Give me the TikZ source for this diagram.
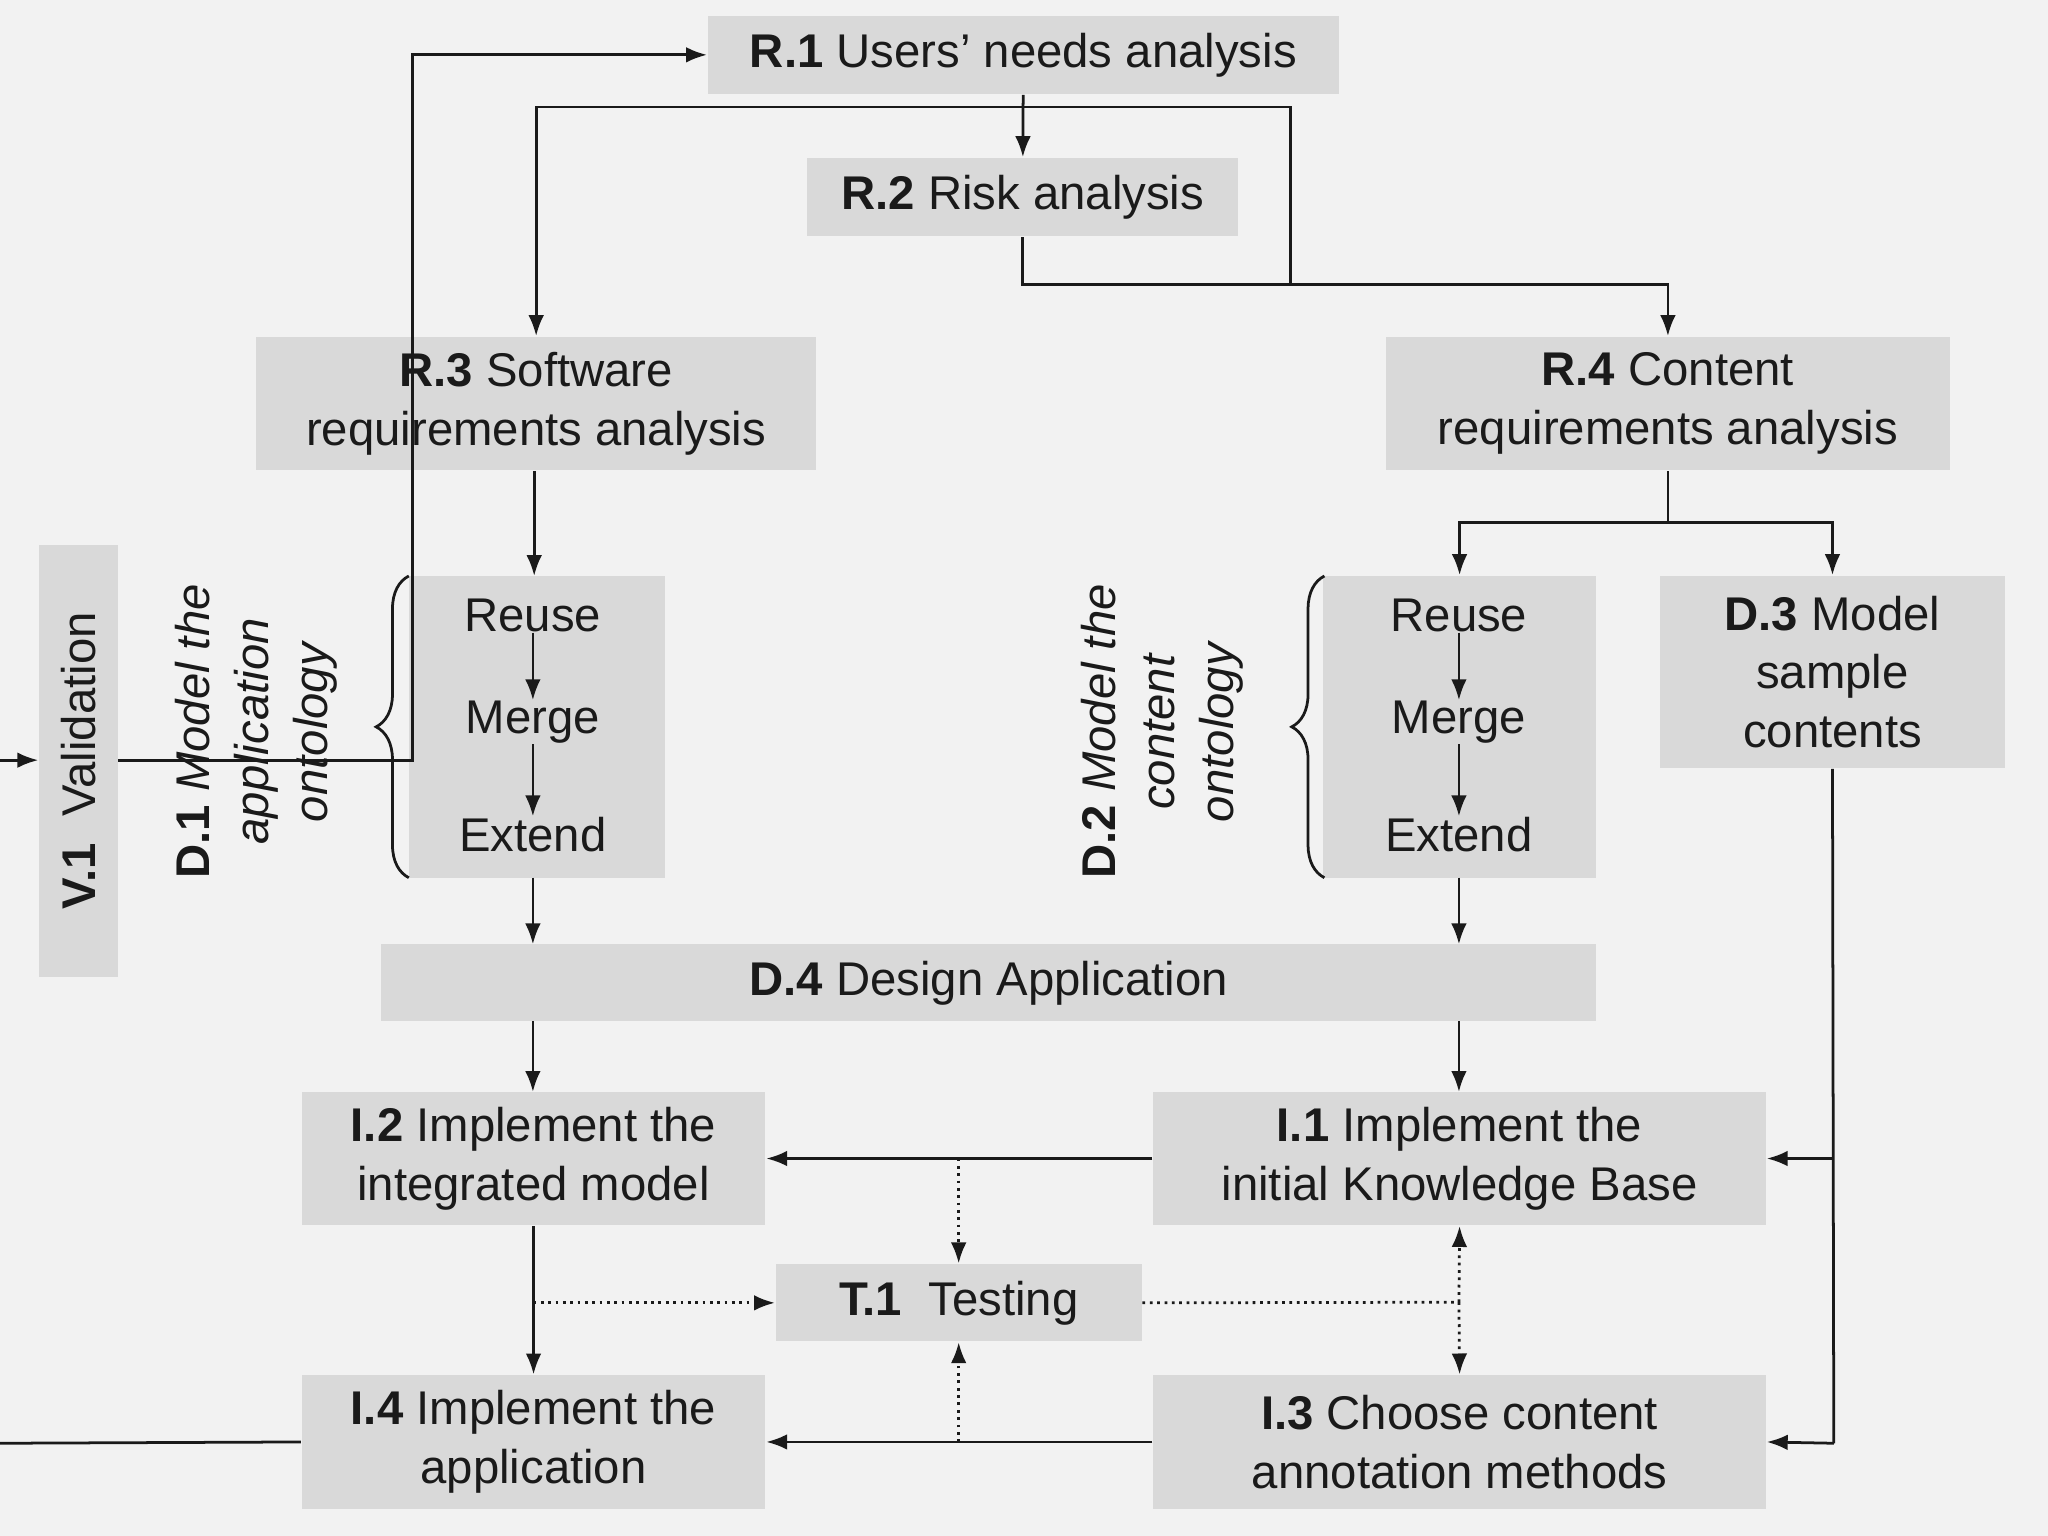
\documentclass[tikz,border=0pt]{standalone}
\usepackage{fontspec}
\setmainfont{Liberation Sans}
\usetikzlibrary{arrows.meta}
\usetikzlibrary{decorations.pathreplacing}
\definecolor{bggray}{HTML}{F2F2F2}
\definecolor{boxgray}{HTML}{D9D9D9}
\definecolor{inkgray}{HTML}{1A1A1A}
\tikzset{
	phase/.style={
		fill=boxgray, inner sep=0pt, align=center, text=inkgray,
		font=\fontsize{10.3}{12.8}\selectfont
	},
	bw/.style={minimum width=#1*0.01cm},
	bh/.style={minimum height=#1*0.01cm},
	sidelabel/.style={
		rotate=90, inner sep=0pt, align=center, text=inkgray,
		font=\fontsize{10.3}{12.8}\selectfont
	},
	step text/.style={
		inner sep=0pt, text=inkgray, font=\fontsize{10.3}{12.8}\selectfont
	},
	flow/.style={
		draw=inkgray, line width=0.6pt, -{Latex[length=1.6mm,width=1.2mm]}
	},
	plain flow/.style={
		draw=inkgray, line width=0.6pt
	},
	test flow/.style={
		flow, densely dotted
	}
}
\begin{document}
\begin{tikzpicture}[x=0.01cm, y=-0.01cm]
    \fill[bggray] (0,0) rectangle (1568,1176);
    \useasboundingbox (0,0) rectangle (1568,1176);

    % requirements
    \node[phase, bw=483, bh=60] (R1) at (783.5,42) {\textbf{R.1} Users’ needs analysis};
    \node[phase, bw=330, bh=60] (R2) at (783,151) {\textbf{R.2} Risk analysis};
    \node[phase, bw=429, bh=102] (R3) at (410.5,309) {\textbf{R.3} Software\\requirements analysis};
    \node[phase, bw=432, bh=102] (R4) at (1277,309) {\textbf{R.4} Content\\requirements analysis};

    % design
    \node[phase, bw=196, bh=231] (D1box) at (411,556.5) {};
    \node[phase, bw=209, bh=231] (D2box) at (1117.5,556.5) {};
    \node[phase, bw=264, bh=147] (D3) at (1403,514.5) {\textbf{D.3} Model\\sample\\contents};
    \node[phase, bw=930, bh=59] (D4) at (757,752.5) {\textbf{D.4} Design Application};
    \node[phase, bw=60, bh=331] (V1) at (60,582.5) {};
    \node[sidelabel] (V1text) at (V1.center) {\textbf{V.1} \ Validation};

    \foreach \blk/\x in {D1/408, D2/1117}{
        \node[step text] (\blk-reuse) at (\x,471) {Reuse};
        \node[step text] (\blk-merge) at (\x,553) {Merge};
        \node[step text] (\blk-extend) at (\x,639) {Extend};
        \draw[flow] (\blk-reuse) -- (\blk-merge);
        \draw[flow] (\blk-merge) -- (\blk-extend);
    }
    \node[sidelabel] (D1label) at (196,560) {\textbf{D.1} \textit{Model the}\\\textit{application}\\\textit{ontology}};
    \node[sidelabel] (D2label) at (890,560) {\textbf{D.2} \textit{Model the}\\\textit{content}\\\textit{ontology}};
    \draw[plain flow, decorate, decoration={brace, amplitude=0.25cm}] (313,672) -- (313,441);
    \draw[plain flow, decorate, decoration={brace, amplitude=0.25cm}] (1014,672) -- (1014,441);

    % implementation and testing
    \node[phase, bw=355, bh=102] (I2) at (408.5,887) {\textbf{I.2} Implement the\\integrated model};
    \node[phase, bw=469, bh=102] (I1) at (1117.5,887) {\textbf{I.1} Implement the\\initial Knowledge Base};
    \node[phase, bw=280, bh=59] (T1) at (734,997.5) {\textbf{T.1} \ Testing};
    \node[phase, bw=355, bh=102] (I4) at (408.5,1104) {\textbf{I.4} Implement the\\application};
    \node[phase, bw=469, bh=102] (I3) at (1117.5,1104) {\textbf{I.3} Choose content\\annotation methods};

    \coordinate (loopin) at (0,582);
    \coordinate (loopout) at (0,1105);
    \coordinate (backtop) at (988,82);
    \coordinate (backbot) at (988,218);
    \coordinate (r4fork) at (1277,400);
    \coordinate (d3turn) at (1404,1105);
    \coordinate (t1fork) at (1117,997);

    \draw[flow] (V1.east |- loopin) -- (316,582) |- (R1.west);
    \draw[flow] (R1) -- (R2);
    \draw[plain flow] (R2.south) |- (backbot);
    \draw[flow] (backbot) -| (R4.north);
    \draw[flow] (backbot) -- (backtop) -| (R3.north);
    \draw[flow] (R3.south -| 409,0) -- (409,441);
    \draw[plain flow] (R4.south) -- (r4fork);
    \draw[flow] (r4fork) -| (D2box.north);
    \draw[flow] (r4fork) -| (D3.north);
    \draw[flow] (408,672) -- (408,723);
    \draw[flow] (1117,672) -- (1117,723);
    \draw[flow] (408,782) -- (408,836);
    \draw[flow] (1117,782) -- (1117,836);
    \draw[plain flow] (D3.south) -- (d3turn);
    \draw[flow] (d3turn) -- (I3.east);
    \draw[flow] (D3.south |- I1.east) -- (I1.east);
    \draw[flow] (I1.west) -- (I2.east);
    \draw[flow] (I3.west) -- (I4.east);
    \draw[flow] (I2.south) -- (I4.north);
    \draw[plain flow] (I4.west) -- (loopout);
    \draw[flow] (loopin) -- (V1.west |- loopin);

    % testing links
    \draw[test flow] (T1.north |- I1.west) -- (T1.north);
    \draw[test flow] (T1.south |- I3.west) -- (T1.south);
    \draw[test flow] (I2.south |- T1.west) -- (T1.west);
    \draw[plain flow, densely dotted] (T1.east) -- (t1fork);
    \draw[test flow] (t1fork) -- (I1.south);
    \draw[test flow] (t1fork) -- (I3.north);
\end{tikzpicture}
\end{document}
